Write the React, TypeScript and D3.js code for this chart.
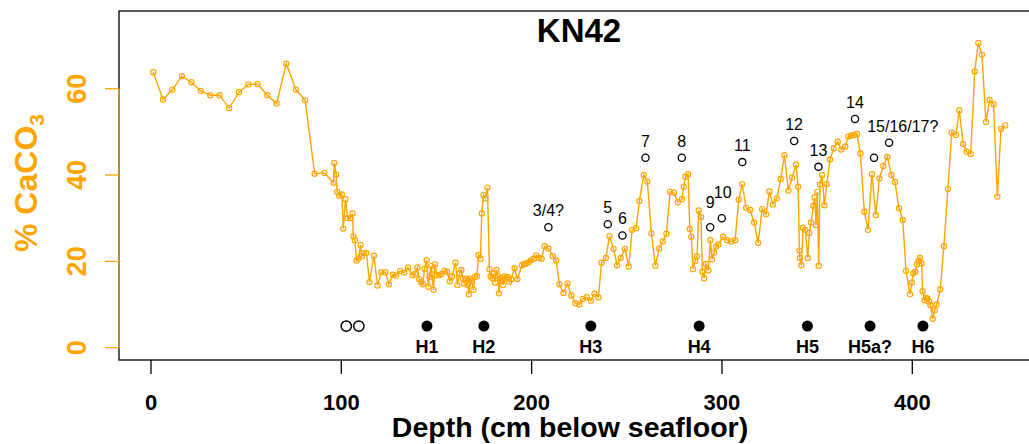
import React from 'react';
import * as d3 from 'd3';

// Core depth (cm) and % CaCO3
const depth = [
  1.2, 6.3, 11.2, 16.3, 21.2, 26.1, 31.1, 36.0, 41.1, 46.2, 51.1, 56.0, 61.1, 66.0, 71.1, 76.1, 81.0,
  86.0, 91.1, 95.9, 96.3, 97.3, 97.8, 98.9, 100.3, 101.0, 102.2, 103.3, 104.7, 105.9, 106.3, 107.1,
  108.0, 109.0, 110.1, 110.8, 111.9, 113.2, 114.8, 117.1, 119.0, 121.0, 123.2, 125.0, 127.1, 128.8,
  130.9, 133.0, 135.0, 137.4, 138.7, 140.0, 140.9, 142.0, 142.9, 143.7, 144.8, 145.8, 146.3, 147.2,
  147.7, 148.4, 149.2, 150.2, 151.4, 152.6, 154.2, 155.6, 157.0, 158.2, 160.0, 161.0, 162.1, 163.1,
  163.9, 164.6, 165.6, 166.5, 167.0, 167.7, 168.4, 169.4, 170.2, 171.2, 172.1, 173.1, 173.8, 174.7,
  175.7, 176.8, 177.8, 178.4, 179.4, 180.1, 180.8, 181.5, 182.2, 182.8, 183.6, 184.4, 185.0, 185.7,
  186.6, 187.5, 188.2, 189.2, 191.0, 192.5, 194.9, 196.1, 197.1, 198.3, 199.7, 201.0, 202.4, 203.8,
  205.2, 206.8, 208.8, 211.1, 212.9, 214.6, 216.7, 218.8, 220.9, 223.0, 225.1, 226.9, 229.0, 231.1,
  233.0, 235.1, 236.7, 239.0, 240.9, 243.0, 244.9, 246.8, 249.0, 251.0, 252.8, 254.9, 256.6, 258.9,
  260.8, 262.9, 265.0, 267.0, 268.9, 270.8, 272.7, 274.8, 276.8, 279.0, 279.9, 280.8, 282.2, 283.1,
  283.9, 284.8, 285.9, 286.9, 287.8, 289.0, 289.7, 290.6, 291.5, 292.9, 293.9, 294.8, 295.8, 296.9,
  298.1, 300.6, 302.7, 304.8, 306.9, 308.8, 310.6, 312.7, 314.8, 316.9, 319.0, 321.1, 323.2, 324.9,
  326.8, 328.8, 330.9, 332.8, 334.9, 336.8, 338.9, 340.0, 340.7, 340.9, 341.7, 342.6, 343.8, 345.1,
  345.9, 346.8, 348.0, 348.7, 349.4, 350.1, 350.8, 351.5, 352.6, 353.8, 355.0, 356.8, 358.7, 360.8,
  362.7, 364.8, 366.4, 367.8, 369.4, 371.0, 372.7, 374.8, 376.7, 378.8, 380.8, 382.7, 384.8, 386.9,
  389.0, 390.9, 393.0, 395.0, 396.7, 398.8, 399.8, 400.5, 401.6, 402.5, 403.4, 404.0, 404.9, 405.4,
  406.5, 407.2, 407.9, 408.8, 409.5, 410.7, 411.8, 412.8, 414.7, 416.6, 418.7, 420.7, 422.9, 424.7,
  426.7, 428.6, 430.7, 432.8, 434.7, 436.6, 438.7, 440.6, 442.7, 444.7, 446.6, 448.8,
];
const caco3 = [
  63.8, 57.5, 59.8, 62.9, 61.5, 59.5, 58.5, 58.5, 55.5, 59.2, 61.0, 61.1, 58.5, 56.6, 65.8, 59.8, 57.3,
  40.3, 40.5, 38.2, 42.8, 40.1, 36.1, 35.2, 35.5, 27.6, 34.4, 30.0, 30.0, 31.1, 25.8, 24.9,
  20.2, 20.7, 23.8, 21.2, 21.9, 21.9, 15.2, 21.3, 14.4, 17.5, 17.5, 14.7, 16.9, 16.7,
  17.8, 17.4, 18.6, 16.8, 17.1, 18.6, 15.9, 15.2, 14.7, 18.3, 20.3, 14.1, 16.4, 18.9,
  17.0, 13.4, 19.3, 16.8, 16.8, 17.1, 17.8, 17.6, 15.4, 16.5, 19.7, 14.5, 17.2, 18.0,
  16.0, 14.9, 16.0, 14.5, 12.4, 16.0, 15.5, 13.4, 16.4, 16.6, 21.5, 20.6, 31.1, 35.4,
  34.6, 37.1, 18.2, 16.5, 16.1, 17.2, 15.1, 18.0, 16.7, 12.6, 16.1, 15.5, 14.5, 16.5,
  16.1, 16.4, 15.3, 15.8, 18.4, 15.9, 19.1, 19.4, 19.5, 19.8, 20.3, 20.6, 21.4, 20.8,
  20.6, 23.5, 23.0, 21.2, 20.2, 14.7, 12.7, 14.9, 12.1, 10.3, 10.0, 11.3, 11.7, 10.9,
  12.5, 11.7, 19.7, 20.8, 25.8, 22.9, 19.1, 20.8, 22.9, 18.8, 27.3, 27.7, 34.0, 40.0,
  38.5, 26.5, 19.0, 23.0, 24.6, 26.4, 36.1, 35.9, 33.7, 34.4, 37.3, 39.6, 40.2, 27.5,
  25.7, 18.2, 20.1, 21.2, 31.8, 30.3, 17.6, 16.1, 19.4, 17.9, 24.9, 20.5, 22.0, 23.4,
  23.9, 25.7, 24.9, 24.6, 24.9, 34.3, 37.9, 32.4, 31.9, 29.0, 24.3, 32.1, 30.9, 36.2,
  33.2, 34.6, 39.1, 44.6, 36.4, 39.4, 42.4, 37.3, 22.5, 20.8, 19.1, 27.8, 27.3, 20.8,
  26.6, 29.0, 32.9, 34.8, 28.4, 36.1, 19.0, 37.8, 40.0, 33.0, 37.9, 43.6, 46.2, 47.7,
  45.9, 46.6, 48.9, 49.1, 49.3, 49.5, 45.0, 31.5, 27.3, 40.2, 30.7, 39.2, 42.1, 44.2,
  40.0, 38.4, 32.3, 29.6, 17.8, 12.4, 15.1, 17.2, 17.6, 19.3, 20.1, 20.8, 19.5, 13.1,
  11.0, 11.6, 11.4, 10.7, 9.9, 6.7, 8.7, 10.0, 13.5, 23.5, 36.8, 49.8, 49.3, 55.0,
  47.2, 45.4, 44.9, 64.0, 70.6, 67.9, 52.3, 57.4, 56.4, 35.0, 50.7, 51.5,
];

const xTicks = [0, 100, 200, 300, 400];
const yTicks = [0, 20, 40, 60];

// Numbered events (open circles) and their labels
const eventDepth = [208.8, 240.0, 247.7, 259.8, 278.9, 293.8, 299.9, 310.7, 337.9, 350.7, 369.9, 379.9, 387.8];
const eventValue = [27.9, 28.6, 26.0, 44.0, 44.0, 27.9, 30.0, 43.0, 47.9, 41.9, 53.0, 44.0, 47.5];
const eventLabel = ['3/4?', '5', '6', '7', '8', '9', '10', '11', '12', '13', '14', '', '15/16/17?'];
const eventLabelDepth = [208.8, 240.0, 247.7, 259.8, 278.9, 293.8, 300.4, 310.7, 337.9, 350.7, 369.9, 379.9, 395.0];
const eventLabelValue = [31.9, 32.5, 29.9, 47.9, 47.9, 33.8, 35.9, 46.9, 51.8, 45.8, 56.9, 48.0, 51.4];

// Heinrich events (filled circles)
const heinrichDepth = [145.0, 174.9, 231.1, 288.0, 344.9, 377.8, 405.6];
const heinrichLabel = ['H1', 'H2', 'H3', 'H4', 'H5', 'H5a?', 'H6'];
const heinrichValue = 5;

// Unlabelled open markers near 100 cm
const otherDepth = [102.6, 109.2];
const otherValue = 5;

const FONT = '"Liberation Sans", Arial, Helvetica, sans-serif';
const ORANGE = '#FFA500';

export default function App() {
  const W = 1029;
  const H = 444;
  const x = d3.scaleLinear().domain([0, 400]).range([151, 912.3]);
  const y = d3.scaleLinear().domain([0, 60]).range([347.7, 88.7]);
  const left = 119, top = 11, bottom = 360, right = 1040;

  const idx = d3.range(depth.length);
  const line = d3
    .line<number>()
    .x((i) => x(depth[i]))
    .y((i) => y(caco3[i]));

  return (
    <svg
      width={W}
      height={H}
      style={{ position: 'absolute', left: 0, top: 0, overflow: 'hidden', background: '#fff' }}
      fontFamily={FONT}
    >
      <rect x={0} y={0} width={W} height={H} fill="#fff" />
      {/* plot box */}
      <rect x={left} y={top} width={right - left} height={bottom - top} fill="none" stroke="#000" strokeWidth={1.3} />

      {/* title */}
      <text x={579} y={42} textAnchor="middle" fontSize={33} fontWeight="bold" fill="#000">
        KN42
      </text>

      {/* data line and points */}
      <path d={line(idx) || ''} fill="none" stroke={ORANGE} strokeWidth={1.4} />
      {idx.map((i) => (
        <circle key={i} cx={x(depth[i])} cy={y(caco3[i])} r={2.6} fill="none" stroke={ORANGE} strokeWidth={1.15} />
      ))}

      {/* numbered events */}
      {eventDepth.map((d, i) => (
        <g key={'e' + i}>
          <circle cx={x(d)} cy={y(eventValue[i])} r={3.6} fill="none" stroke="#000" strokeWidth={1.3} />
          {eventLabel[i] && (
            <text
              x={x(eventLabelDepth[i])}
              y={y(eventLabelValue[i]) + 16 * 0.36}
              textAnchor="middle"
              fontSize={16}
              fill="#000"
            >
              {eventLabel[i]}
            </text>
          )}
        </g>
      ))}

      {/* other open markers */}
      {otherDepth.map((d, i) => (
        <circle key={'o' + i} cx={x(d)} cy={y(otherValue)} r={5.2} fill="none" stroke="#000" strokeWidth={1.5} />
      ))}

      {/* Heinrich events */}
      {heinrichDepth.map((d, i) => (
        <g key={'h' + i}>
          <circle cx={x(d)} cy={y(heinrichValue)} r={5.5} fill="#000" />
          <text x={x(d)} y={353} textAnchor="middle" fontSize={18} fontWeight="bold" fill="#000">
            {heinrichLabel[i]}
          </text>
        </g>
      ))}

      {/* y axis */}
      <line x1={left} x2={left} y1={y(0)} y2={y(60)} stroke="#DE9A22" strokeWidth={1.5} />
      {yTicks.map((t) => (
        <g key={'yt' + t}>
          <line x1={105} x2={left} y1={y(t)} y2={y(t)} stroke={ORANGE} strokeWidth={1.3} />
          <text
            transform={`translate(76.5,${y(t)}) rotate(-90)`}
            textAnchor="middle"
            dy="0.36em"
            fontSize={27}
            fontWeight="bold"
            fill={ORANGE}
          >
            {t}
          </text>
        </g>
      ))}
      <text transform={`translate(25,183) rotate(-90)`} textAnchor="middle" fontWeight="bold" fill={ORANGE}>
        <tspan fontSize={32} dy={11.5}>% CaCO</tspan>
        <tspan fontSize={21} dy={7}>3</tspan>
      </text>

      {/* x axis */}
      {xTicks.map((t) => (
        <g key={'xt' + t}>
          <line x1={x(t)} x2={x(t)} y1={bottom} y2={374} stroke="#000" strokeWidth={1.3} />
          <text x={x(t)} y={410} textAnchor="middle" fontSize={22} fontWeight="bold" fill="#000">
            {t}
          </text>
        </g>
      ))}
      <text x={570} y={437} textAnchor="middle" fontSize={28.5} fontWeight="bold" fill="#000">
        Depth (cm below seafloor)
      </text>
    </svg>
  );
}
